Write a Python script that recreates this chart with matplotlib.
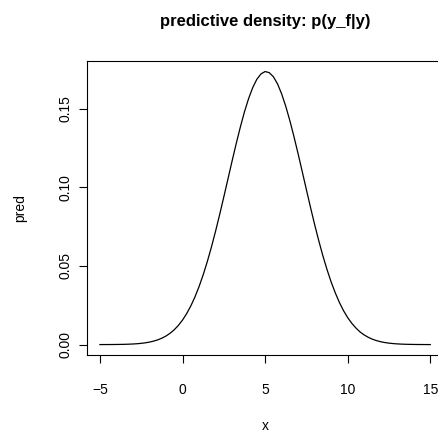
import matplotlib
matplotlib.use("Agg")
import matplotlib.pyplot as plt

# grid of x values (step 0.25) and the predictive density
x = [-5.0, -4.75, -4.5, -4.25, -4.0, -3.75, -3.5, -3.25, -3.0, -2.75,
     -2.5, -2.25, -2.0, -1.75, -1.5, -1.25, -1.0, -0.75, -0.5, -0.25,
     0.0, 0.25, 0.5, 0.75, 1.0, 1.25, 1.5, 1.75, 2.0, 2.25,
     2.5, 2.75, 3.0, 3.25, 3.5, 3.75, 4.0, 4.25, 4.5, 4.75,
     5.0, 5.25, 5.5, 5.75, 6.0, 6.25, 6.5, 6.75, 7.0, 7.25,
     7.5, 7.75, 8.0, 8.25, 8.5, 8.75, 9.0, 9.25, 9.5, 9.75,
     10.0, 10.25, 10.5, 10.75, 11.0, 11.25, 11.5, 11.75, 12.0, 12.25,
     12.5, 12.75, 13.0, 13.25, 13.5, 13.75, 14.0, 14.25, 14.5, 14.75, 15.0]
pred = [0.00001, 0.00002, 0.00003, 0.00005, 0.00008, 0.00012, 0.00017, 0.00026, 0.00038, 0.00055,
        0.00079, 0.00113, 0.00158, 0.00220, 0.00301, 0.00408, 0.00545, 0.00722, 0.00944, 0.01220,
        0.01558, 0.01966, 0.02451, 0.03021, 0.03682, 0.04431, 0.05273, 0.06199, 0.07202, 0.08269,
        0.09385, 0.1052, 0.1166, 0.1277, 0.1382, 0.1479, 0.1563, 0.1633, 0.1686, 0.1720,
        0.1735, 0.1728, 0.1702, 0.1657, 0.1593, 0.1514, 0.1422, 0.1320, 0.1211, 0.1098,
        0.0984, 0.0871, 0.0762, 0.0659, 0.0563, 0.0476, 0.0397, 0.0328, 0.0267, 0.0215,
        0.0171, 0.0135, 0.0105, 0.0080, 0.0061, 0.0046, 0.0034, 0.0025, 0.0018, 0.0013,
        0.00091, 0.00064, 0.00044, 0.00030, 0.00020, 0.00014, 0.00009, 0.00006, 0.00004, 0.00002, 0.00001]

xticks = [-5, 0, 5, 10, 15]
yticks = [0.00, 0.05, 0.10, 0.15]
ytick_labels = ["0.00", "0.05", "0.10", "0.15"]

plt.rcParams["font.family"] = ["Liberation Sans", "DejaVu Sans"]

fig = plt.figure(figsize=(4.39, 4.33), dpi=100)
# plot region runs past the right edge, like the cropped original
ax = fig.add_axes([0.1975, 0.179, 0.8128, 0.681])

ax.plot(x, pred, color="black", linewidth=0.9)

# R-style 4% padding on both axes
xr = max(x) - min(x)
yr = max(pred) - min(pred)
ax.set_xlim(min(x) - 0.04 * xr, max(x) + 0.04 * xr)
ax.set_ylim(min(pred) - 0.04 * yr, max(pred) + 0.04 * yr)

ax.set_xticks(xticks)
ax.set_xticklabels([str(t).replace("-", "\u2212") for t in xticks])
ax.set_yticks(yticks)
ax.set_yticklabels(ytick_labels, rotation=90, va="center")
ax.tick_params(length=6, width=0.8, labelsize=10, color="black")
ax.tick_params(axis="x", pad=14)
ax.tick_params(axis="y", pad=4)
for s in ax.spines.values():
    s.set_linewidth(0.8)
ax.spines["right"].set_visible(False)

ax.set_xlabel("x", fontsize=10, va="center")
ax.xaxis.set_label_coords(0.5, -0.238)
ax.set_ylabel("pred", fontsize=10, va="center")
ax.yaxis.set_label_coords(-0.187, 0.5)
ax.set_title("predictive density: p(y_f|y)", fontsize=12, fontweight="bold",
             y=1.131, va="center", pad=0)

fig.savefig("out.png", dpi=100)
